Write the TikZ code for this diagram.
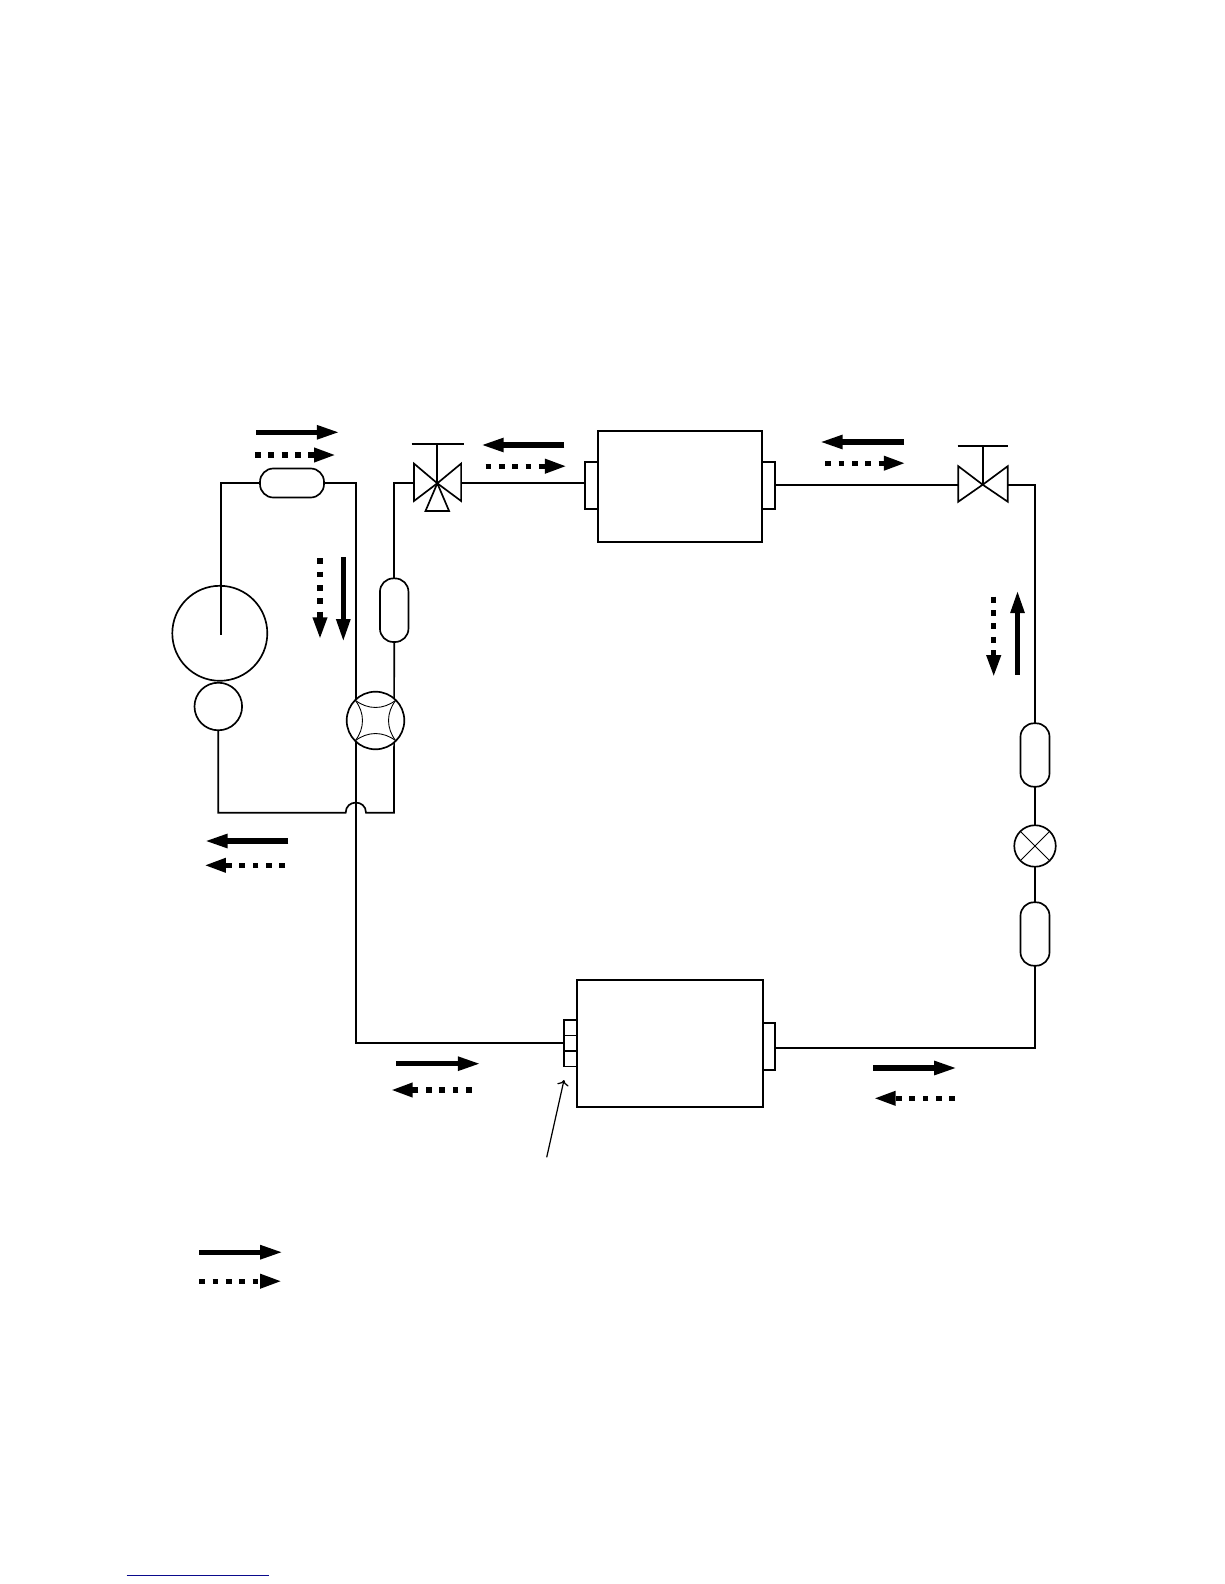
\documentclass[tikz,border=0pt]{standalone}
\usepackage{tikz}
\usetikzlibrary{arrows.meta}
\definecolor{linkblue}{RGB}{10,10,140}
\def\pu{0.02cm}
\tikzset{
	pipe/.style={line width=0.95pt},
	thinpipe/.style={line width=0.5pt},
	unitbox/.style={draw,line width=0.95pt,rectangle,inner sep=0,outer sep=0},
	filterbox/.style={unitbox,fill=white,rounded corners=7.6pt},
	ringnode/.style={draw,line width=0.95pt,circle,inner sep=0,outer sep=0},
	flowsolid/.style={line width=3pt,-{Triangle[length=13pt,width=7.4pt]}},
	flowdots/.style={line width=3pt,dash pattern=on 3.3pt off 4.3pt,-{Triangle[length=12.5pt,width=7.6pt]}},
}
\begin{document}
\begin{tikzpicture}[x=\pu,y=-\pu]
	\useasboundingbox (0,0) rectangle (1224,1584);
	% units
	\node[unitbox,minimum width=12.7*\pu,minimum height=47*\pu] (stubTL) at (591.35,485.5) {};
	\node[unitbox,minimum width=13*\pu,minimum height=47*\pu] (stubTR) at (768.5,485.5) {};
	\node[unitbox,fill=white,minimum width=164.3*\pu,minimum height=111.3*\pu] (indoor) at (679.85,486.65) {};
	\node[unitbox,minimum width=13*\pu,minimum height=46.7*\pu] (stubBL) at (570.8,1043.3) {};
	\node[unitbox,minimum width=12*\pu,minimum height=47*\pu] (stubBR) at (769,1046.8) {};
	\node[unitbox,fill=white,minimum width=185.7*\pu,minimum height=127.3*\pu] (outdoor) at (670.15,1043.65) {};
	\draw[thinpipe] (564.3,1035.3) -- (577.3,1035.3);
	\draw[pipe] (564.3,1050.7) -- (577.3,1050.7);
	% compressor
	\node[ringnode,minimum size=95*\pu] (comp) at (219.8,633.3) {};
	\node[ringnode,minimum size=47.6*\pu] (motor) at (218.3,706.5) {};
	% valves
	\coordinate (valveA) at (437.3,483.3);
	\coordinate (valveAl) at (414,483.3);
	\coordinate (valveAr) at (461.7,483.3);
	\coordinate (valveB) at (982.7,484.7);
	\coordinate (valveBl) at (958.3,484.7);
	\coordinate (valveBr) at (1007.7,484.7);
	\draw[pipe] (valveA) -- ++(-23.3,-19.7) -- ++(0,37.4) -- cycle;
	\draw[pipe] (valveA) -- ++(23.8,-19.7) -- ++(0,37.4) -- cycle;
	\draw[pipe] (valveA) -- ++(-11.8,27.7) -- ++(23.6,0) -- cycle;
	\draw[pipe] (valveA) -- ++(0,-39);
	\draw[pipe] (411.7,444.3) -- (463.7,444.3);
	\draw[pipe] (valveB) -- ++(-24.4,-18.5) -- ++(0,35.5) -- cycle;
	\draw[pipe] (valveB) -- ++(25,-18.5) -- ++(0,35.5) -- cycle;
	\draw[pipe] (valveB) -- ++(0,-39);
	\draw[pipe] (957.7,445.7) -- (1008.3,445.7);
	% pipe ends
	\coordinate (stem) at (221,635);
	\coordinate (cornerL) at (355.7,1043.3);
	\coordinate (hopa) at (345.7,812.7);
	\coordinate (hopb) at (366,812.7);
	\coordinate (cornerR) at (394,812.7);
	\coordinate (stubBRp) at (775,1048.3);
	% filters
	\node[filterbox,minimum width=64*\pu,minimum height=29*\pu] (filterH) at (292,483) {};
	\node[filterbox,minimum width=28.5*\pu,minimum height=63.6*\pu] (filterV) at (394.2,610.2) {};
	\node[filterbox,minimum width=29*\pu,minimum height=63.4*\pu] (filterRa) at (1035,755) {};
	\node[filterbox,minimum width=29*\pu,minimum height=63.4*\pu] (filterRb) at (1035,934) {};
	\node[ringnode,minimum size=41.5*\pu] (expv) at (1035,846) {};
	\draw[thinpipe] (expv.north west) -- (expv.south east);
	\draw[thinpipe] (expv.north east) -- (expv.south west);
	% pipes
	\draw[pipe] (filterH.west) -| (stem);
	\draw[pipe] (filterH.east) -| (cornerL) -- (stubBL.west);
	\draw[pipe] (motor.south) |- (hopa) to[out=90,in=90,looseness=1.7] (hopb) -- (cornerR) -- (filterV.south);
	\draw[pipe] (filterV.north) |- (valveAl);
	\draw[pipe] (valveAr) -- (valveAr -| stubTL.west);
	\draw[pipe] (valveB -| stubTR.east) -- (valveBl);
	\draw[pipe] (valveBr) -| (filterRa.north);
	\draw[pipe] (filterRa.south) -- (expv.north);
	\draw[pipe] (expv.south) -- (filterRb.north);
	\draw[pipe] (filterRb.south) |- (stubBRp);
	% four way valve
	\node[ringnode,fill=white,minimum size=57.6*\pu] (fourway) at (375.5,720.5) {};
	\draw[thinpipe] (fourway.north west) to[bend right=38] (fourway.north east);
	\draw[thinpipe] (fourway.north east) to[bend right=38] (fourway.south east);
	\draw[thinpipe] (fourway.south east) to[bend right=38] (fourway.south west);
	\draw[thinpipe] (fourway.south west) to[bend right=38] (fourway.north west);
	% flow arrows
	\coordinate (fa1) at (256,432.3); \coordinate (fb1) at (339.7,432.3); \draw[flowsolid] (fa1) -- (fb1);
	\coordinate (da1) at (255,455); \coordinate (db1) at (336,455); \draw[flowdots] (da1) -- (db1);
	\coordinate (fa2) at (343.3,557); \coordinate (fb2) at (343.3,642); \draw[flowsolid] (fa2) -- (fb2);
	\coordinate (da2) at (320,558.3); \coordinate (db2) at (320,639.3); \draw[flowdots] (da2) -- (db2);
	\coordinate (fa3) at (288.3,841); \coordinate (fb3) at (204.7,841); \draw[flowsolid] (fa3) -- (fb3);
	\coordinate (da3) at (285,865.3); \coordinate (db3) at (204,865.3); \draw[flowdots] (da3) -- (db3);
	\coordinate (fa4) at (564.4,445); \coordinate (fb4) at (480.9,445); \draw[flowsolid] (fa4) -- (fb4);
	\coordinate (da4) at (485.5,466.2); \coordinate (db4) at (566.9,466.2); \draw[flowdots] (da4) -- (db4);
	\coordinate (fa5) at (904.2,442); \coordinate (fb5) at (819.8,442); \draw[flowsolid] (fa5) -- (fb5);
	\coordinate (da5) at (825.3,463.2); \coordinate (db5) at (905.7,463.2); \draw[flowdots] (da5) -- (db5);
	\coordinate (fa6) at (1017.5,674.6); \coordinate (fb6) at (1017.5,590.2); \draw[flowsolid] (fa6) -- (fb6);
	\coordinate (da6) at (993.7,596.7); \coordinate (db6) at (993.7,677.1); \draw[flowdots] (da6) -- (db6);
	\coordinate (fa7) at (396,1063.7); \coordinate (fb7) at (480.7,1063.7); \draw[flowsolid] (fa7) -- (fb7);
	\coordinate (da7) at (471.7,1090); \coordinate (db7) at (390.7,1090); \draw[flowdots] (da7) -- (db7);
	\coordinate (fa8) at (873.3,1068); \coordinate (fb8) at (957,1068); \draw[flowsolid] (fa8) -- (fb8);
	\coordinate (da8) at (955,1098.3); \coordinate (db8) at (873.7,1098.3); \draw[flowdots] (da8) -- (db8);
	\coordinate (fa9) at (199.2,1252.2); \coordinate (fb9) at (283,1252.2); \draw[flowsolid] (fa9) -- (fb9);
	\coordinate (da9) at (199.2,1281.2); \coordinate (db9) at (282,1281.2); \draw[flowdots] (da9) -- (db9);
	% pointer
	\coordinate (notea) at (546.7,1157.3);
	\coordinate (noteb) at (564,1080);
	\draw[line width=0.7pt,->] (notea) -- (noteb);
	% underline at the foot
	\coordinate (linka) at (126.7,1575.3);
	\coordinate (linkb) at (269,1575.3);
	\draw[linkblue,line width=0.75pt] (linka) -- (linkb);
\end{tikzpicture}
\end{document}
